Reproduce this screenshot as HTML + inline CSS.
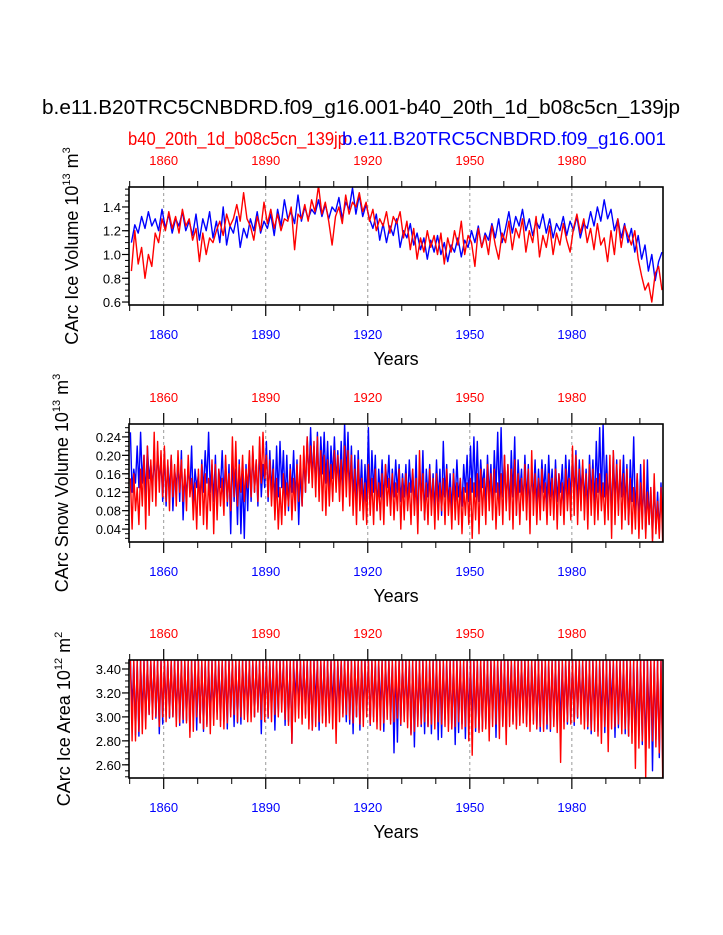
<!DOCTYPE html>
<html><head><meta charset="utf-8"><style>
html,body{margin:0;padding:0;background:#fff;}
svg{display:block;font-family:"Liberation Sans",sans-serif;}
</style></head><body>
<svg id="chart" width="723" height="935" viewBox="0 0 723 935" xmlns="http://www.w3.org/2000/svg">
<text x="42" y="114" font-size="20" textLength="638" lengthAdjust="spacingAndGlyphs">b.e11.B20TRC5CNBDRD.f09_g16.001-b40_20th_1d_b08c5cn_139jp</text>
<text x="128" y="145" font-size="18" fill="#ff0000" textLength="219" lengthAdjust="spacingAndGlyphs">b40_20th_1d_b08c5cn_139jp</text>
<text x="342" y="145" font-size="18" fill="#0000ff" textLength="324" lengthAdjust="spacingAndGlyphs">b.e11.B20TRC5CNBDRD.f09_g16.001</text>
</svg>
<script>
const years = [];
for (let y = 1850; y <= 2006; y++) years.push(y);

const volBlue = [1.10,1.25,1.18,1.32,1.22,1.36,1.24,1.30,1.20,1.38,
1.22,1.34,1.18,1.30,1.24,1.36,1.20,1.28,1.16,1.34,
1.12,1.30,1.20,1.36,1.14,1.28,1.10,1.40,1.08,1.24,
1.18,1.32,1.06,1.22,1.14,1.30,1.20,1.36,1.18,1.28,
1.22,1.34,1.16,1.38,1.24,1.46,1.30,1.36,1.26,1.50,
1.28,1.40,1.30,1.38,1.34,1.46,1.32,1.42,1.30,1.40,
1.36,1.48,1.30,1.44,1.38,1.56,1.34,1.50,1.32,1.42,
1.30,1.22,1.34,1.12,1.26,1.10,1.24,1.16,1.30,1.06,
1.20,1.14,1.26,1.08,1.18,1.04,1.14,0.96,1.12,1.02,
1.16,1.00,1.10,0.94,1.08,1.02,1.14,0.98,1.12,1.06,
1.20,1.10,1.24,1.06,1.18,1.12,1.26,1.14,1.30,1.10,
1.22,1.36,1.18,1.32,1.24,1.38,1.20,1.30,1.16,1.28,
1.22,1.34,1.18,1.30,1.14,1.26,1.20,1.32,1.16,1.28,
1.20,1.32,1.14,1.26,1.22,1.36,1.24,1.40,1.28,1.46,
1.30,1.38,1.20,1.30,1.14,1.26,1.10,1.22,1.02,1.16,
0.96,1.08,0.86,1.00,0.78,0.94,1.02];
const volRed = [0.86,1.20,0.92,1.06,0.80,1.00,0.90,1.18,1.10,1.30,
1.20,1.36,1.22,1.32,1.18,1.38,1.24,1.30,1.12,1.22,
0.94,1.18,1.00,1.14,1.10,1.20,1.28,1.16,1.34,1.24,
1.30,1.42,1.28,1.52,1.30,1.24,1.12,1.32,1.20,1.44,
1.26,1.38,1.22,1.34,1.20,1.30,1.28,1.40,1.04,1.34,
1.30,1.42,1.28,1.46,1.36,1.58,1.34,1.44,1.28,1.08,
1.32,1.40,1.26,1.50,1.34,1.44,1.40,1.52,1.36,1.44,
1.28,1.38,1.20,1.30,1.24,1.36,1.18,1.32,1.26,1.36,
1.14,1.28,1.04,1.22,0.96,1.14,1.02,1.20,1.06,1.16,
1.00,1.18,0.92,1.14,1.02,1.20,1.08,1.28,1.00,1.16,
1.10,0.90,1.22,1.06,1.16,1.00,1.24,1.08,0.96,1.18,
1.10,1.28,1.04,1.22,1.14,1.30,1.02,1.20,1.10,1.32,
0.98,1.16,1.06,1.24,1.00,1.18,1.08,1.26,1.12,1.02,
1.22,1.34,1.18,1.30,1.10,1.22,1.04,1.26,1.08,1.14,
0.94,1.20,1.00,1.30,1.06,1.24,1.16,1.08,1.20,0.96,
0.82,0.70,0.76,0.60,0.84,0.90,0.70];

const snowBluePeak = [.25,.17,.22,.25,.20,.22,.18,.20,.21,.19,
.21,.18,.20,.17,.19,.21,.16,.18,.22,.17,
.16,.19,.21,.25,.18,.20,.17,.21,.19,.18,
.20,.17,.19,.16,.18,.20,.21,.19,.22,.18,
.23,.21,.19,.22,.23,.21,.20,.18,.21,.19,
.17,.20,.24,.26,.22,.25,.24,.25,.23,.22,
.24,.21,.23,.27,.25,.22,.20,.21,.19,.18,
.26,.21,.20,.17,.19,.18,.20,.17,.19,.18,
.16,.18,.19,.17,.20,.18,.21,.17,.18,.16,
.19,.17,.23,.18,.16,.17,.19,.15,.18,.20,
.22,.24,.23,.19,.17,.20,.18,.21,.25,.26,
.20,.18,.21,.24,.19,.17,.20,.18,.16,.19,
.17,.19,.18,.20,.17,.19,.16,.18,.20,.19,
.20,.21,.19,.18,.17,.20,.19,.23,.26,.27,
.20,.18,.21,.19,.17,.20,.18,.19,.24,.16,
.18,.15,.19,.13,.14,.12,.14];
const snowBlueLow = [.12,.14,.13,.14,.11,.15,.13,.12,.14,.10,
.09,.12,.08,.13,.10,.06,.11,.12,.09,.13,
.10,.12,.14,.12,.10,.08,.13,.11,.09,.03,
.10,.05,.03,.02,.08,.10,.12,.09,.11,.13,
.10,.12,.09,.11,.13,.10,.08,.12,.10,.05,
.09,.12,.14,.15,.13,.12,.16,.14,.12,.15,
.14,.13,.12,.15,.11,.10,.09,.11,.08,.10,
.09,.12,.08,.11,.10,.13,.09,.11,.12,.10,
.11,.09,.12,.08,.05,.10,.06,.11,.09,.08,
.10,.07,.11,.09,.08,.10,.11,.09,.12,.10,
.12,.11,.10,.13,.09,.11,.08,.12,.10,.11,
.09,.08,.11,.07,.12,.09,.10,.08,.11,.09,
.10,.12,.09,.11,.08,.10,.12,.09,.11,.10,
.11,.09,.12,.10,.08,.11,.09,.12,.10,.11,
.09,.06,.10,.08,.11,.09,.05,.10,.07,.04,
.06,.03,.05,.02,.04,.03,.05];
const snowRedPeak = [.15,.16,.13,.17,.20,.22,.19,.25,.23,.21,
.22,.19,.20,.18,.21,.19,.17,.20,.15,.14,
.17,.18,.16,.15,.19,.18,.17,.15,.20,.16,
.24,.23,.18,.20,.17,.21,.22,.19,.24,.25,
.20,.19,.17,.15,.13,.16,.14,.17,.15,.18,
.20,.22,.24,.22,.23,.24,.21,.20,.19,.18,
.21,.20,.19,.22,.21,.20,.17,.19,.15,.14,
.18,.15,.17,.14,.16,.18,.15,.16,.14,.17,
.15,.16,.14,.17,.15,.21,.16,.14,.17,.15,
.16,.14,.15,.17,.13,.16,.14,.15,.13,.14,
.15,.14,.16,.17,.15,.18,.16,.17,.14,.16,
.20,.18,.17,.19,.16,.15,.18,.17,.21,.16,
.15,.17,.14,.16,.15,.17,.16,.14,.17,.15,
.22,.20,.17,.19,.16,.18,.17,.15,.16,.14,
.16,.20,.21,.18,.19,.16,.17,.15,.13,.16,
.14,.19,.12,.13,.16,.10,.13];
const snowRedLow = [.04,.08,.05,.09,.04,.07,.10,.09,.12,.11,
.10,.08,.11,.09,.12,.10,.08,.11,.06,.04,
.07,.05,.04,.08,.03,.06,.09,.07,.10,.08,
.11,.09,.12,.10,.13,.11,.12,.10,.14,.15,
.11,.09,.06,.04,.05,.07,.09,.06,.08,.10,
.09,.12,.14,.13,.11,.10,.08,.07,.09,.10,
.12,.10,.08,.11,.09,.07,.05,.08,.06,.05,
.07,.05,.08,.06,.05,.09,.07,.06,.08,.04,
.06,.08,.05,.07,.03,.08,.06,.05,.07,.04,
.06,.08,.05,.07,.04,.06,.05,.03,.07,.05,
.02,.06,.03,.07,.05,.08,.06,.04,.07,.05,
.08,.06,.04,.07,.05,.08,.06,.03,.07,.05,
.06,.08,.05,.07,.06,.04,.07,.05,.08,.06,
.07,.05,.08,.06,.04,.07,.05,.06,.08,.05,
.06,.02,.05,.07,.04,.06,.05,.03,.04,.02,
.04,.02,.05,.01,.03,.02,.01];

const areaMax = 3.47;
const areaBlueMin = [3.05,2.85,2.84,3.00,2.95,3.02,3.03,2.99,2.86,2.94,
3.04,2.99,3.00,2.98,2.93,2.95,2.97,2.88,2.96,2.89,
2.95,2.88,2.94,2.96,2.98,3.04,2.97,2.96,2.90,3.02,
2.92,2.95,2.94,3.04,2.99,3.03,3.00,3.06,2.86,3.02,
2.99,3.04,2.89,3.03,3.10,2.93,2.96,2.78,3.14,3.06,
3.07,3.02,2.97,2.89,3.10,2.89,3.01,2.95,2.97,3.08,
2.93,3.08,3.03,2.96,2.94,2.86,3.00,2.89,3.01,3.05,
2.93,3.00,2.96,3.02,2.88,3.06,2.97,2.70,2.79,2.93,
3.00,2.98,2.86,2.75,2.96,2.92,2.86,2.92,2.86,2.98,
2.81,2.83,2.98,2.94,2.90,2.77,2.87,2.94,2.82,2.97,
2.91,2.88,2.89,2.90,2.92,2.90,2.98,2.83,2.99,2.93,
2.87,3.00,2.96,2.93,2.97,3.00,2.94,2.96,2.97,2.90,
2.88,2.94,2.90,2.88,2.95,2.92,2.87,2.96,2.94,2.98,
2.93,2.99,3.02,2.96,2.90,2.86,2.97,2.88,2.95,2.87,
2.90,3.07,2.83,2.91,2.98,2.86,2.84,2.87,2.74,2.84,
2.77,2.66,2.93,2.55,2.81,2.66,2.65];
const areaRedMin = [2.80,2.80,2.88,2.86,2.90,3.02,2.98,3.00,2.92,3.00,
2.96,3.00,3.00,2.92,2.95,2.98,2.95,2.83,2.88,3.00,
2.95,2.90,2.92,2.86,2.93,2.98,2.92,2.90,2.95,3.00,
3.02,2.96,3.00,2.98,2.96,2.96,3.00,3.04,2.98,2.96,
3.00,2.96,3.02,3.00,3.04,2.98,2.93,2.78,2.96,2.99,
2.94,2.99,2.90,2.89,2.92,2.96,2.95,2.92,2.95,2.90,
2.78,2.96,3.00,3.02,2.98,2.95,3.00,2.94,2.92,3.00,
2.94,2.96,2.90,2.89,2.95,2.98,2.94,2.96,2.99,2.94,
2.96,2.91,2.85,2.88,2.92,2.94,2.96,2.92,2.94,2.90,
2.96,2.94,2.92,2.88,2.90,2.92,2.96,2.90,2.92,2.80,
2.68,2.91,2.87,2.88,2.90,2.80,2.92,2.94,2.82,2.92,
2.77,2.92,2.94,2.90,2.93,2.95,2.92,2.88,2.94,2.90,
2.92,2.88,2.94,2.90,2.92,2.87,2.62,2.90,2.96,2.94,
2.96,3.00,2.94,2.90,2.92,2.89,2.88,2.84,2.78,2.92,
2.71,2.90,2.92,2.94,2.86,2.90,2.84,2.78,2.57,2.74,
2.80,2.49,2.74,2.80,2.75,2.70,2.49];

const xTickLabels = ["1860","1890","1920","1950","1980"];
const xMajor = [1860,1890,1920,1950,1980];
const xMinor = [1850,1870,1880,1900,1910,1930,1940,1960,1970,1990,2000];

const volTicks = [0.6,0.8,1.0,1.2,1.4];
const volTickLabels = ["0.6","0.8","1.0","1.2","1.4"];
const snowTicks = [0.04,0.08,0.12,0.16,0.20,0.24];
const snowTickLabels = ["0.04","0.08","0.12","0.16","0.20","0.24"];
const areaTicks = [2.6,2.8,3.0,3.2,3.4];
const areaTickLabels = ["2.60","2.80","3.00","3.20","3.40"];

const NS = "http://www.w3.org/2000/svg";
const svg = document.getElementById("chart");
const L = 129, R = 663, X0 = 1849.8, X1 = 2006.8;
function xs(v){ return L + (v - X0) / (X1 - X0) * (R - L); }

function mk(tag, attrs, parent){
  const e = document.createElementNS(NS, tag);
  for (const k in attrs) e.setAttribute(k, attrs[k]);
  (parent || svg).appendChild(e);
  return e;
}

function panel(cfg){
  const T = cfg.top, B = cfg.top + 118;
  const ys = v => B - (v - cfg.ymin) / (cfg.ymax - cfg.ymin) * (B - T);
  const g = mk("g", {});
  
  
  const cp = mk("clipPath", {id: cfg.name + "-clip"}, g);
  mk("rect", {x: L, y: T, width: R - L, height: B - T}, cp);
  xMajor.forEach(yr => {
    const l = mk("line", {x1: xs(yr), x2: xs(yr), y1: T, y2: B, stroke: "#999", "stroke-dasharray": "3,3", "stroke-width": 1}, g);
    
    
  });
  const sg = mk("g", {"clip-path": "url(#" + cfg.name + "-clip)"}, g);
  cfg.series.forEach(s => {
    const p = mk("polyline", {points: s.pts.map(q => xs(q[0]).toFixed(1) + "," + ys(q[1]).toFixed(1)).join(" "), fill: "none", stroke: s.color, "stroke-width": 1.4, "stroke-linejoin": "round"}, sg);
    
    
  });
  const fr = mk("rect", {x: L, y: T, width: R - L, height: B - T, fill: "none", stroke: "#000", "stroke-width": 1.6}, g);
  
  
  xMajor.forEach((yr, i) => {
    mk("line", {x1: xs(yr), x2: xs(yr), y1: T - 11, y2: T, stroke: "#000", "stroke-width": 1.2}, g);
    mk("line", {x1: xs(yr), x2: xs(yr), y1: B, y2: B + 11, stroke: "#000", "stroke-width": 1.2}, g);
    const t1 = mk("text", {x: xs(yr), y: T - 22, "font-size": 13, fill: "#ff0000", "text-anchor": "middle"}, g);
    t1.textContent = xTickLabels[i];
    
    
    const t2 = mk("text", {x: xs(yr), y: B + 34, "font-size": 13, fill: "#0000ff", "text-anchor": "middle"}, g);
    t2.textContent = xTickLabels[i];
    
    
  });
  xMinor.forEach(yr => {
    mk("line", {x1: xs(yr), x2: xs(yr), y1: T - 6, y2: T, stroke: "#000", "stroke-width": 1}, g);
    mk("line", {x1: xs(yr), x2: xs(yr), y1: B, y2: B + 6, stroke: "#000", "stroke-width": 1}, g);
  });
  for (let v = cfg.minorStart; v <= cfg.ymax + 1e-9; v += cfg.minorStep) {
    if (v < cfg.ymin) continue;
    mk("line", {x1: L - 4, x2: L, y1: ys(v), y2: ys(v), stroke: "#000", "stroke-width": 1}, g);
  }
  cfg.ticks.forEach((v, i) => {
    mk("line", {x1: L - 7, x2: L, y1: ys(v), y2: ys(v), stroke: "#000", "stroke-width": 1.2}, g);
    const t = mk("text", {x: 121, y: ys(v) + 5, "font-size": 13, "text-anchor": "end"}, g);
    t.textContent = cfg.tickLabels[i];
    
    
  });
  const cy = (T + B) / 2;
  const yt = mk("text", {x: 0, y: 0, "font-size": 18, "text-anchor": "middle", transform: "translate(" + cfg.titleX + "," + cy + ") rotate(-90)"}, g);
  
  
  yt.appendChild(document.createTextNode(cfg.title + " 10"));
  const s1 = mk("tspan", {dy: -8, "font-size": 11}, yt); s1.textContent = cfg.exp;
  const s2 = mk("tspan", {dy: 8}, yt); s2.textContent = " m";
  const s3 = mk("tspan", {dy: -8, "font-size": 11}, yt); s3.textContent = cfg.unitExp;
  const xt = mk("text", {x: 396, y: B + 60, "font-size": 18, "text-anchor": "middle"}, g);
  xt.textContent = "Years";
  
  
}

function lineSeries(vals){ return years.map((y, i) => [y + 0.5, vals[i]]); }
function zigSeries(hi, lo){
  const pts = [];
  years.forEach((y, i) => {
    pts.push([y + 0.2, Array.isArray(hi) ? hi[i] : hi]);
    pts.push([y + 0.7, lo[i]]);
  });
  return pts;
}

panel({name: "ice-volume-panel", top: 187, ymin: 0.575, ymax: 1.568, ticks: volTicks, tickLabels: volTickLabels,
  minorStart: 0.6, minorStep: 0.05, title: "CArc Ice Volume", exp: "13", unitExp: "3", titleX: 78,
  series: [{name: "ice-volume-blue", color: "#0000ff", pts: lineSeries(volBlue)},
           {name: "ice-volume-red", color: "#ff0000", pts: lineSeries(volRed)}]});
panel({name: "snow-volume-panel", top: 424, ymin: 0.012, ymax: 0.268, ticks: snowTicks, tickLabels: snowTickLabels,
  minorStart: 0.02, minorStep: 0.01, title: "CArc Snow Volume", exp: "13", unitExp: "3", titleX: 68,
  series: [{name: "snow-volume-blue", color: "#0000ff", pts: zigSeries(snowBluePeak, snowBlueLow)},
           {name: "snow-volume-red", color: "#ff0000", pts: zigSeries(snowRedPeak, snowRedLow)}]});
panel({name: "ice-area-panel", top: 660, ymin: 2.49, ymax: 3.475, ticks: areaTicks, tickLabels: areaTickLabels,
  minorStart: 2.5, minorStep: 0.05, title: "CArc Ice Area", exp: "12", unitExp: "2", titleX: 70,
  series: [{name: "ice-area-blue", color: "#0000ff", pts: zigSeries(areaMax, areaBlueMin)},
           {name: "ice-area-red", color: "#ff0000", pts: zigSeries(areaMax, areaRedMin)}]});
</script>
</body></html>
